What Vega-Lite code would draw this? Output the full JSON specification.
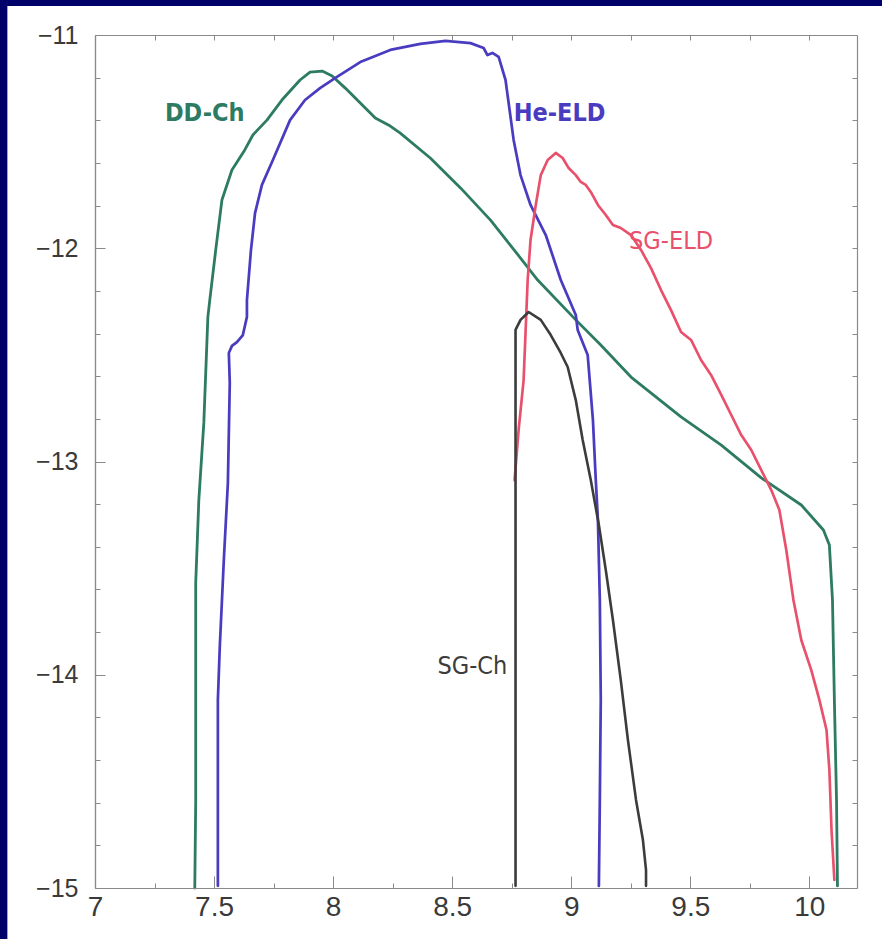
{
  "$schema": "https://vega.github.io/schema/vega-lite/v6.json",
  "width": 762,
  "height": 853,
  "autosize": {"type": "none"},
  "padding": {"left": 95, "top": 35, "right": 25, "bottom": 51},
  "background": "#00006b",
  "config": {
    "view": {"stroke": null},
    "axis": {"zindex": 1, "grid": false, "title": null, "domainColor": "#8a8a8a", "tickColor": "#8a8a8a", "domainWidth": 1.2, "tickWidth": 1, "labelFont": "Liberation Sans", "labelColor": "#3a3a3a"}
  },
  "datasets": {
    "bg": [{"x": 6.632, "x2": 10.8, "y": -10.864, "y2": -15.6}],
    "lines": [
      {"s":"DD-Ch","i":0,"x":7.419,"y":-15.0},{"s":"DD-Ch","i":1,"x":7.423,"y":-14.587},{"s":"DD-Ch","i":2,"x":7.423,"y":-14.118},{"s":"DD-Ch","i":3,"x":7.423,"y":-13.57},{"s":"DD-Ch","i":4,"x":7.436,"y":-13.181},{"s":"DD-Ch","i":5,"x":7.457,"y":-12.819},{"s":"DD-Ch","i":6,"x":7.474,"y":-12.322},{"s":"DD-Ch","i":7,"x":7.482,"y":-12.243},{"s":"DD-Ch","i":8,"x":7.507,"y":-12.008},{"s":"DD-Ch","i":9,"x":7.533,"y":-11.774},{"s":"DD-Ch","i":10,"x":7.575,"y":-11.633},{"s":"DD-Ch","i":11,"x":7.629,"y":-11.539},{"s":"DD-Ch","i":12,"x":7.663,"y":-11.469},{"s":"DD-Ch","i":13,"x":7.722,"y":-11.399},{"s":"DD-Ch","i":14,"x":7.785,"y":-11.305},{"s":"DD-Ch","i":15,"x":7.861,"y":-11.211},{"s":"DD-Ch","i":16,"x":7.903,"y":-11.174},{"s":"DD-Ch","i":17,"x":7.954,"y":-11.169},{"s":"DD-Ch","i":18,"x":7.996,"y":-11.192},{"s":"DD-Ch","i":19,"x":8.051,"y":-11.249},{"s":"DD-Ch","i":20,"x":8.114,"y":-11.319},{"s":"DD-Ch","i":21,"x":8.177,"y":-11.389},{"s":"DD-Ch","i":22,"x":8.24,"y":-11.427},{"s":"DD-Ch","i":23,"x":8.282,"y":-11.46},{"s":"DD-Ch","i":24,"x":8.408,"y":-11.577},{"s":"DD-Ch","i":25,"x":8.535,"y":-11.717},{"s":"DD-Ch","i":26,"x":8.661,"y":-11.868},{"s":"DD-Ch","i":27,"x":8.787,"y":-12.046},{"s":"DD-Ch","i":28,"x":8.859,"y":-12.149},{"s":"DD-Ch","i":29,"x":9.019,"y":-12.336},{"s":"DD-Ch","i":30,"x":9.124,"y":-12.454},{"s":"DD-Ch","i":31,"x":9.251,"y":-12.604},{"s":"DD-Ch","i":32,"x":9.461,"y":-12.791},{"s":"DD-Ch","i":33,"x":9.63,"y":-12.923},{"s":"DD-Ch","i":34,"x":9.798,"y":-13.077},{"s":"DD-Ch","i":35,"x":9.966,"y":-13.204},{"s":"DD-Ch","i":36,"x":10.059,"y":-13.321},{"s":"DD-Ch","i":37,"x":10.084,"y":-13.392},{"s":"DD-Ch","i":38,"x":10.097,"y":-13.649},{"s":"DD-Ch","i":39,"x":10.105,"y":-14.118},{"s":"DD-Ch","i":40,"x":10.114,"y":-14.587},{"s":"DD-Ch","i":41,"x":10.118,"y":-14.99},
      {"s":"He-ELD","i":0,"x":7.516,"y":-14.99},{"s":"He-ELD","i":1,"x":7.516,"y":-14.587},{"s":"He-ELD","i":2,"x":7.516,"y":-14.118},{"s":"He-ELD","i":3,"x":7.524,"y":-13.87},{"s":"He-ELD","i":4,"x":7.541,"y":-13.462},{"s":"He-ELD","i":5,"x":7.558,"y":-13.101},{"s":"He-ELD","i":6,"x":7.566,"y":-12.632},{"s":"He-ELD","i":7,"x":7.562,"y":-12.491},{"s":"He-ELD","i":8,"x":7.575,"y":-12.458},{"s":"He-ELD","i":9,"x":7.596,"y":-12.44},{"s":"He-ELD","i":10,"x":7.621,"y":-12.407},{"s":"He-ELD","i":11,"x":7.638,"y":-12.322},{"s":"He-ELD","i":12,"x":7.638,"y":-12.243},{"s":"He-ELD","i":13,"x":7.655,"y":-12.008},{"s":"He-ELD","i":14,"x":7.672,"y":-11.835},{"s":"He-ELD","i":15,"x":7.701,"y":-11.703},{"s":"He-ELD","i":16,"x":7.747,"y":-11.586},{"s":"He-ELD","i":17,"x":7.819,"y":-11.399},{"s":"He-ELD","i":18,"x":7.882,"y":-11.305},{"s":"He-ELD","i":19,"x":7.945,"y":-11.249},{"s":"He-ELD","i":20,"x":8.008,"y":-11.202},{"s":"He-ELD","i":21,"x":8.114,"y":-11.127},{"s":"He-ELD","i":22,"x":8.24,"y":-11.07},{"s":"He-ELD","i":23,"x":8.366,"y":-11.042},{"s":"He-ELD","i":24,"x":8.472,"y":-11.028},{"s":"He-ELD","i":25,"x":8.577,"y":-11.038},{"s":"He-ELD","i":26,"x":8.632,"y":-11.061},{"s":"He-ELD","i":27,"x":8.648,"y":-11.094},{"s":"He-ELD","i":28,"x":8.669,"y":-11.084},{"s":"He-ELD","i":29,"x":8.695,"y":-11.103},{"s":"He-ELD","i":30,"x":8.724,"y":-11.211},{"s":"He-ELD","i":31,"x":8.758,"y":-11.492},{"s":"He-ELD","i":32,"x":8.787,"y":-11.657},{"s":"He-ELD","i":33,"x":8.829,"y":-11.797},{"s":"He-ELD","i":34,"x":8.893,"y":-11.938},{"s":"He-ELD","i":35,"x":8.956,"y":-12.149},{"s":"He-ELD","i":36,"x":9.019,"y":-12.313},{"s":"He-ELD","i":37,"x":9.027,"y":-12.383},{"s":"He-ELD","i":38,"x":9.069,"y":-12.501},{"s":"He-ELD","i":39,"x":9.091,"y":-12.805},{"s":"He-ELD","i":40,"x":9.103,"y":-13.087},{"s":"He-ELD","i":41,"x":9.112,"y":-13.274},{"s":"He-ELD","i":42,"x":9.12,"y":-13.649},{"s":"He-ELD","i":43,"x":9.124,"y":-14.118},{"s":"He-ELD","i":44,"x":9.12,"y":-14.587},{"s":"He-ELD","i":45,"x":9.116,"y":-14.99},
      {"s":"SG-ELD","i":0,"x":8.762,"y":-13.087},{"s":"SG-ELD","i":1,"x":8.779,"y":-12.852},{"s":"SG-ELD","i":2,"x":8.8,"y":-12.618},{"s":"SG-ELD","i":3,"x":8.817,"y":-12.149},{"s":"SG-ELD","i":4,"x":8.829,"y":-11.961},{"s":"SG-ELD","i":5,"x":8.851,"y":-11.797},{"s":"SG-ELD","i":6,"x":8.872,"y":-11.657},{"s":"SG-ELD","i":7,"x":8.901,"y":-11.586},{"s":"SG-ELD","i":8,"x":8.935,"y":-11.553},{"s":"SG-ELD","i":9,"x":8.964,"y":-11.577},{"s":"SG-ELD","i":10,"x":8.989,"y":-11.624},{"s":"SG-ELD","i":11,"x":9.019,"y":-11.657},{"s":"SG-ELD","i":12,"x":9.04,"y":-11.689},{"s":"SG-ELD","i":13,"x":9.061,"y":-11.703},{"s":"SG-ELD","i":14,"x":9.082,"y":-11.736},{"s":"SG-ELD","i":15,"x":9.112,"y":-11.797},{"s":"SG-ELD","i":16,"x":9.145,"y":-11.844},{"s":"SG-ELD","i":17,"x":9.175,"y":-11.891},{"s":"SG-ELD","i":18,"x":9.208,"y":-11.905},{"s":"SG-ELD","i":19,"x":9.251,"y":-11.938},{"s":"SG-ELD","i":20,"x":9.293,"y":-12.008},{"s":"SG-ELD","i":21,"x":9.335,"y":-12.093},{"s":"SG-ELD","i":22,"x":9.377,"y":-12.196},{"s":"SG-ELD","i":23,"x":9.419,"y":-12.29},{"s":"SG-ELD","i":24,"x":9.461,"y":-12.393},{"s":"SG-ELD","i":25,"x":9.503,"y":-12.43},{"s":"SG-ELD","i":26,"x":9.545,"y":-12.524},{"s":"SG-ELD","i":27,"x":9.587,"y":-12.594},{"s":"SG-ELD","i":28,"x":9.63,"y":-12.688},{"s":"SG-ELD","i":29,"x":9.672,"y":-12.782},{"s":"SG-ELD","i":30,"x":9.714,"y":-12.876},{"s":"SG-ELD","i":31,"x":9.756,"y":-12.946},{"s":"SG-ELD","i":32,"x":9.798,"y":-13.04},{"s":"SG-ELD","i":33,"x":9.84,"y":-13.134},{"s":"SG-ELD","i":34,"x":9.874,"y":-13.227},{"s":"SG-ELD","i":35,"x":9.903,"y":-13.415},{"s":"SG-ELD","i":36,"x":9.933,"y":-13.649},{"s":"SG-ELD","i":37,"x":9.966,"y":-13.837},{"s":"SG-ELD","i":38,"x":10.008,"y":-13.978},{"s":"SG-ELD","i":39,"x":10.042,"y":-14.118},{"s":"SG-ELD","i":40,"x":10.072,"y":-14.259},{"s":"SG-ELD","i":41,"x":10.084,"y":-14.447},{"s":"SG-ELD","i":42,"x":10.093,"y":-14.728},{"s":"SG-ELD","i":43,"x":10.105,"y":-14.962},
      {"s":"SG-Ch","i":0,"x":8.766,"y":-14.99},{"s":"SG-Ch","i":1,"x":8.766,"y":-14.118},{"s":"SG-Ch","i":2,"x":8.766,"y":-13.181},{"s":"SG-Ch","i":3,"x":8.766,"y":-12.383},{"s":"SG-Ch","i":4,"x":8.787,"y":-12.336},{"s":"SG-Ch","i":5,"x":8.821,"y":-12.299},{"s":"SG-Ch","i":6,"x":8.872,"y":-12.336},{"s":"SG-Ch","i":7,"x":8.914,"y":-12.407},{"s":"SG-Ch","i":8,"x":8.956,"y":-12.491},{"s":"SG-Ch","i":9,"x":8.985,"y":-12.557},{"s":"SG-Ch","i":10,"x":9.019,"y":-12.712},{"s":"SG-Ch","i":11,"x":9.048,"y":-12.899},{"s":"SG-Ch","i":12,"x":9.082,"y":-13.087},{"s":"SG-Ch","i":13,"x":9.116,"y":-13.298},{"s":"SG-Ch","i":14,"x":9.145,"y":-13.509},{"s":"SG-Ch","i":15,"x":9.175,"y":-13.743},{"s":"SG-Ch","i":16,"x":9.208,"y":-14.025},{"s":"SG-Ch","i":17,"x":9.238,"y":-14.306},{"s":"SG-Ch","i":18,"x":9.272,"y":-14.587},{"s":"SG-Ch","i":19,"x":9.301,"y":-14.775},{"s":"SG-Ch","i":20,"x":9.314,"y":-14.916},{"s":"SG-Ch","i":21,"x":9.314,"y":-14.99}
    ],
    "labels": [
      {"s":"DD-Ch","x":7.461,"y":-11.366,"w":"bold"},
      {"s":"He-ELD","x":8.951,"y":-11.366,"w":"bold"},
      {"s":"SG-ELD","x":9.419,"y":-11.966,"w":"normal"},
      {"s":"SG-Ch","x":8.585,"y":-13.959,"w":"normal"}
    ]
  },
  "layer": [
    {
      "data": {"name": "bg"},
      "mark": {"type": "rect", "fill": "white", "clip": false},
      "encoding": {
        "x": {"field": "x", "type": "quantitative", "scale": {"domain": [7, 10.2], "nice": false, "zero": false},
              "axis": {"orient": "bottom", "zindex": 2, "values": [7.25,7.75,8.25,8.75,9.25,9.75], "tickSize": -5, "labels": false, "domain": true}},
        "x2": {"field": "x2"},
        "y": {"field": "y", "type": "quantitative", "scale": {"domain": [-15, -11], "nice": false, "zero": false},
              "axis": {"orient": "left", "zindex": 2, "values": [-14.8,-14.6,-14.4,-14.2,-13.8,-13.6,-13.4,-13.2,-12.8,-12.6,-12.4,-12.2,-11.8,-11.6,-11.4,-11.2], "tickSize": -5, "labels": false, "domain": true}},
        "y2": {"field": "y2"}
      }
    },
    {
      "data": {"name": "lines"},
      "mark": {"type": "line", "strokeJoin": "round", "strokeCap": "round"},
      "encoding": {
        "x": {"field": "x", "type": "quantitative", "scale": {"domain": [7, 10.2], "nice": false, "zero": false},
              "axis": {"orient": "bottom", "zindex": 2, "values": [7,7.5,8,8.5,9,9.5,10], "format": "~g", "tickSize": -12, "labelFontSize": 28, "labelPadding": 17, "labelBaseline": "top", "labelFlush": false, "domain": true}},
        "y": {"field": "y", "type": "quantitative", "scale": {"domain": [-15, -11], "nice": false, "zero": false},
              "axis": {"orient": "left", "zindex": 2, "values": [-15,-14,-13,-12,-11], "format": "~g", "tickSize": -10, "labelFontSize": 25, "labelPadding": 27, "labelFlush": false, "domain": true}},
        "order": {"field": "i", "type": "quantitative"},
        "detail": {"field": "s"},
        "color": {"field": "s", "type": "nominal", "legend": null,
                  "scale": {"domain": ["DD-Ch","He-ELD","SG-ELD","SG-Ch"], "range": ["#2d7b62","#4a3cc0","#e8506c","#3c3c3c"]}},
        "strokeWidth": {"field": "s", "type": "nominal", "legend": null,
                  "scale": {"domain": ["DD-Ch","He-ELD","SG-ELD","SG-Ch"], "range": [2.8, 2.6, 1.6, 1.5]}}
      }
    },
    {
      "data": {"name": "labels"},
      "transform": [{"filter": "datum.w == 'bold'"}],
      "mark": {"type": "text", "font": "Liberation Sans Narrow, DejaVu Sans Condensed, Roboto Condensed, Liberation Sans, sans-serif", "fontSize": 25, "fontWeight": "bold", "align": "center", "baseline": "middle"},
      "encoding": {
        "x": {"field": "x", "type": "quantitative", "scale": {"domain": [7, 10.2], "nice": false, "zero": false},
              "axis": {"orient": "top", "zindex": 2, "values": [7.25,7.5,7.75,8,8.25,8.5,8.75,9,9.25,9.5,9.75,10], "tickSize": -5, "labels": false, "domain": true}},
        "y": {"field": "y", "type": "quantitative", "scale": {"domain": [-15, -11], "nice": false, "zero": false},
              "axis": {"orient": "right", "zindex": 2, "values": [-14.8,-14.6,-14.4,-14.2,-14,-13.8,-13.6,-13.4,-13.2,-13,-12.8,-12.6,-12.4,-12.2,-12,-11.8,-11.6,-11.4,-11.2], "tickSize": -5, "labels": false, "domain": true}},
        "text": {"field": "s"},
        "color": {"field": "s", "type": "nominal", "legend": null}
      }
    },
    {
      "data": {"name": "labels"},
      "transform": [{"filter": "datum.w == 'normal'"}],
      "mark": {"type": "text", "font": "Liberation Sans Narrow, DejaVu Sans Condensed, Roboto Condensed, Liberation Sans, sans-serif", "fontSize": 25, "align": "center", "baseline": "middle"},
      "encoding": {
        "x": {"field": "x", "type": "quantitative", "scale": {"domain": [7, 10.2], "nice": false, "zero": false}, "axis": null},
        "y": {"field": "y", "type": "quantitative", "scale": {"domain": [-15, -11], "nice": false, "zero": false}, "axis": null},
        "text": {"field": "s"},
        "color": {"field": "s", "type": "nominal", "legend": null}
      }
    }
  ],
  "resolve": {"axis": {"x": "independent", "y": "independent"}}
}
